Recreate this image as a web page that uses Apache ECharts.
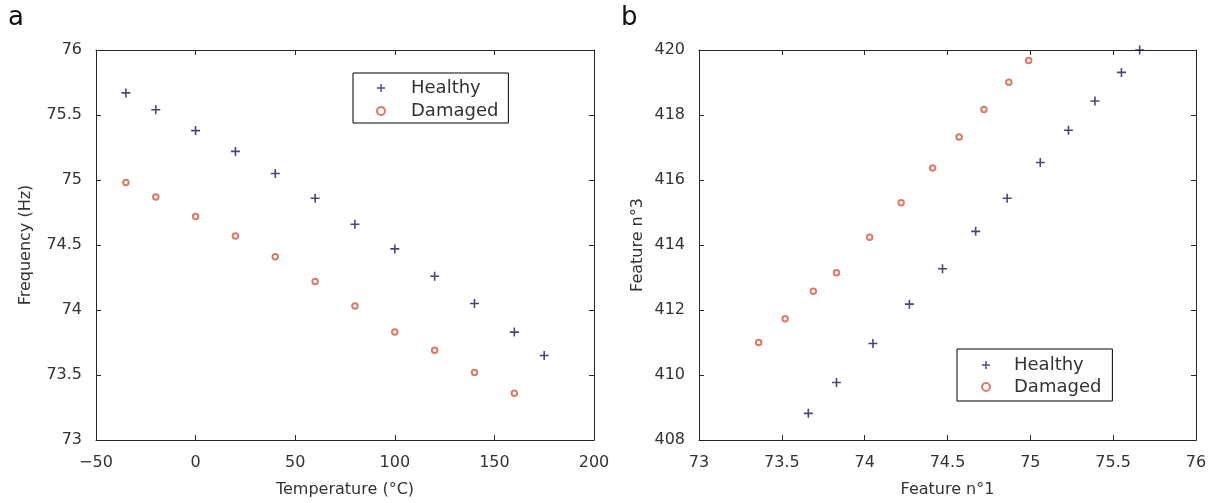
<!DOCTYPE html>
<html>
<head>
<meta charset="utf-8">
<script src="https://cdn.jsdelivr.net/npm/echarts@6/dist/echarts.min.js"></script>
<style>
html,body{margin:0;padding:0;background:#fff;}
#chart{width:1217px;height:503px;}
</style>
</head>
<body>
<div id="chart"></div>
<script>
// ---- data ----
var tempHealthy = [-35, -20, 0, 20, 40, 60, 80, 100, 120, 140, 160, 175];
var freqHealthy = [75.67, 75.54, 75.38, 75.22, 75.05, 74.86, 74.66, 74.47, 74.26, 74.05, 73.83, 73.65];
var tempDamaged = [-35, -20, 0, 20, 40, 60, 80, 100, 120, 140, 160];
var freqDamaged = [74.98, 74.87, 74.72, 74.57, 74.41, 74.22, 74.03, 73.83, 73.69, 73.52, 73.36];

var f1Healthy = [73.66, 73.83, 74.05, 74.27, 74.47, 74.67, 74.86, 75.06, 75.23, 75.39, 75.55, 75.66];
var f3Healthy = [408.82, 409.77, 410.97, 412.18, 413.27, 414.42, 415.44, 416.54, 417.53, 418.43, 419.31, 420.0];
var f1Damaged = [73.36, 73.52, 73.69, 73.83, 74.03, 74.22, 74.41, 74.57, 74.72, 74.87, 74.99];
var f3Damaged = [411.0, 411.73, 412.58, 413.15, 414.24, 415.30, 416.37, 417.32, 418.17, 419.01, 419.68];

var seriesNames = ['Healthy', 'Damaged'];
var panelLabels = ['a', 'b'];
var axisNames = {
  ax: 'Temperature (°C)', ay: 'Frequency (Hz)',
  bx: 'Feature n°1', by: 'Feature n°3'
};

function zip(xs, ys) { return xs.map(function (x, i) { return [x, ys[i]]; }); }

var FONT = 'DejaVu Sans';
var TXT = '#333';
var LINE = '#262626';
var HEALTHY = '#1c1c58';
var DAMAGED = '#d05a45';
var PLUS = 'path://M4.1,0H5.9V4.1H10V5.9H5.9V10H4.1V5.9H0V4.1H4.1Z';

function fmt(v) { return String(v).replace('-', '\u2212'); }

function mainAxis(pos, grid, min, max, interval, name, nameGap) {
  var isX = (pos === 'bottom' || pos === 'top');
  return {
    type: 'value', gridIndex: grid, position: pos,
    min: min, max: max, interval: interval,
    name: name, nameLocation: 'middle', nameGap: nameGap,
    nameTextStyle: { fontFamily: FONT, fontSize: 16, color: TXT },
    axisLine: { show: true, onZero: false, lineStyle: { color: LINE, width: 1 } },
    axisTick: { show: true, inside: true, length: 5, lineStyle: { color: LINE } },
    axisLabel: { show: true, fontFamily: FONT, fontSize: 16, color: TXT, margin: isX ? 15 : 14, formatter: fmt },
    splitLine: { show: false }
  };
}
function boxAxis(pos, grid, min, max, interval) {
  return {
    type: 'value', gridIndex: grid, position: pos,
    min: min, max: max, interval: interval,
    axisLine: { show: true, onZero: false, lineStyle: { color: LINE, width: 1 } },
    axisTick: { show: true, inside: true, length: 5, lineStyle: { color: LINE } },
    axisLabel: { show: false },
    splitLine: { show: false }
  };
}

function legendAt(left, top, padding, textPad, itemGap) {
  return {
    left: left, top: top, orient: 'vertical',
    data: seriesNames,
    itemWidth: 8, itemHeight: 8, itemGap: itemGap,
    padding: padding,
    borderColor: '#000', borderWidth: 1, backgroundColor: '#fff',
    selectedMode: false,
    textStyle: { fontFamily: FONT, fontSize: 18, color: TXT, lineHeight: 20, padding: [0, 0, 0, textPad] }
  };
}

var healthyStyle = { symbol: PLUS, symbolSize: 9, itemStyle: { color: HEALTHY } };
var damagedStyle = { symbol: 'emptyCircle', symbolSize: 5.5, itemStyle: { color: DAMAGED, borderColor: DAMAGED, borderWidth: 2 } };

var option = {
  animation: false,
  backgroundColor: '#fff',
  graphic: [
    { type: 'text', left: 8, top: 5, style: { text: panelLabels[0], fontFamily: FONT, fontSize: 26, fill: '#111' } },
    { type: 'text', left: 621, top: 5, style: { text: panelLabels[1], fontFamily: FONT, fontSize: 26, fill: '#111' } }
  ],
  grid: [
    { left: 96, top: 50, width: 498, height: 390 },
    { left: 699, top: 50, width: 497, height: 390 }
  ],
  xAxis: [
    mainAxis('bottom', 0, -50, 200, 50, axisNames.ax, 42),
    boxAxis('top', 0, -50, 200, 50),
    mainAxis('bottom', 1, 73, 76, 0.5, axisNames.bx, 42),
    boxAxis('top', 1, 73, 76, 0.5)
  ],
  yAxis: [
    mainAxis('left', 0, 73, 76, 0.5, axisNames.ay, 62),
    boxAxis('right', 0, 73, 76, 0.5),
    mainAxis('left', 1, 408, 420, 2, axisNames.by, 53),
    boxAxis('right', 1, 408, 420, 2)
  ],
  legend: [
    legendAt(353, 73, [5, 10, 2, 23], 21, 3),
    legendAt(957, 349, [6, 11, 4, 24], 19, 2)
  ],
  series: [
    Object.assign({ type: 'scatter', name: seriesNames[0], xAxisIndex: 0, yAxisIndex: 0, data: zip(tempHealthy, freqHealthy), clip: false }, healthyStyle),
    Object.assign({ type: 'scatter', name: seriesNames[1], xAxisIndex: 0, yAxisIndex: 0, data: zip(tempDamaged, freqDamaged), clip: false }, damagedStyle),
    Object.assign({ type: 'scatter', name: seriesNames[0], xAxisIndex: 2, yAxisIndex: 2, data: zip(f1Healthy, f3Healthy), clip: false }, healthyStyle),
    Object.assign({ type: 'scatter', name: seriesNames[1], xAxisIndex: 2, yAxisIndex: 2, data: zip(f1Damaged, f3Damaged), clip: false }, damagedStyle)
  ]
};

var chart = echarts.init(document.getElementById('chart'), null, { renderer: 'canvas' });
chart.setOption(option);
</script>
</body>
</html>
